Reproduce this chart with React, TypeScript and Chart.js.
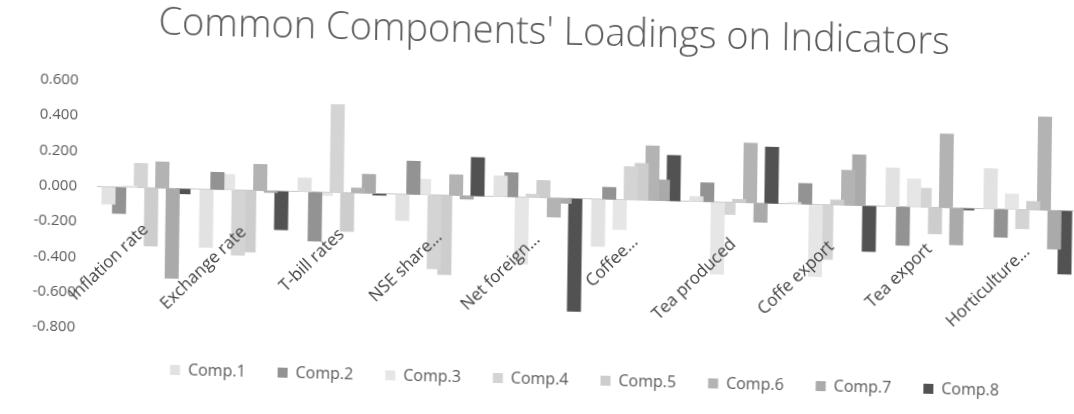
import React, { useEffect, useRef } from "react";
import { Chart, registerables } from "chart.js";

Chart.register(...registerables);

const categories = [
  "Inflation rate",
  "Exchange rate",
  "T-bill rates",
  "NSE share...",
  "Net foreign...",
  "Coffee...",
  "Tea produced",
  "Coffe export",
  "Tea export",
  "Horticulture...",
];

const comp1 = [-0.1, -0.33, 0.08, -0.15, 0.12, -0.27, 0.03, 0.01, 0.22, 0.23];
const comp2 = [-0.15, 0.1, -0.28, 0.19, 0.14, 0.07, 0.11, 0.12, -0.22, -0.16];
const comp3 = [0.01, 0.09, -0.02, 0.09, -0.38, -0.17, -0.41, -0.41, 0.16, 0.09];
const comp4 = [0.14, -0.37, 0.5, -0.42, 0.02, 0.19, -0.07, -0.31, 0.11, -0.11];
const comp5 = [-0.33, -0.35, -0.22, -0.45, 0.1, 0.21, 0.02, 0.03, -0.15, 0.05];
const comp6 = [0.15, 0.15, 0.03, 0.12, -0.11, 0.31, 0.34, 0.2, 0.42, 0.53];
const comp7 = [-0.51, -0.01, 0.11, -0.02, -0.03, 0.12, -0.11, 0.29, -0.21, -0.22];
const comp8 = [-0.03, -0.22, -0.01, 0.22, -0.64, 0.26, 0.32, -0.26, -0.01, -0.36];

const seriesNames = ["Comp.1", "Comp.2", "Comp.3", "Comp.4", "Comp.5", "Comp.6", "Comp.7", "Comp.8"];
const seriesValues = [comp1, comp2, comp3, comp4, comp5, comp6, comp7, comp8];
const seriesColors = ["#e2e2e2", "#939393", "#e6e6e6", "#d4d4d4", "#cdcdcd", "#b3b3b3", "#aaaaaa", "#525252"];

const yMin = -0.8;
const yMax = 0.6;
const yStep = 0.2;

const FONT = "'Open Sans', 'DejaVu Sans', sans-serif";

export default function App() {
  const ref = useRef<HTMLCanvasElement | null>(null);

  useEffect(() => {
    if (!ref.current) return;
    const chart = new Chart(ref.current, {
      type: "bar",
      data: {
        labels: categories,
        datasets: seriesNames.map((name, i) => ({
          label: name,
          data: seriesValues[i],
          backgroundColor: seriesColors[i],
          borderWidth: 0,
          categoryPercentage: 0.874,
          barPercentage: 1.31,
        })),
      },
      options: {
        responsive: false,
        animation: false,
        devicePixelRatio: 1,
        layout: { padding: { left: 27, right: 0, top: 0, bottom: 17 } },
        plugins: {
          title: {
            display: true,
            text: "Common Components' Loadings on Indicators",
            color: "#595959",
            font: { family: FONT, size: 38, weight: "300" as any },
            padding: { top: 10, bottom: 36 },
          },
          legend: {
            position: "bottom",
            fullSize: false,
            labels: {
              boxWidth: 10,
              boxHeight: 10,
              padding: 32,
              color: "#595959",
              font: { family: FONT, size: 16 },
            },
          },
          tooltip: { enabled: false },
        },
        scales: {
          x: {
            type: "category",
            position: { y: 0 } as any,
            offset: true,
            grid: { display: false, drawTicks: false },
            border: { display: true, color: "#c8c8c8", width: 1 },
            ticks: {
              z: 1,
              autoSkip: false,
              minRotation: 45,
              maxRotation: 45,
              padding: 32,
              color: "#404040",
              font: { family: FONT, size: 17 },
            },
          },
          y: {
            min: yMin,
            max: yMax,
            grid: { display: false, drawTicks: false },
            border: { display: false },
            afterFit: (s: any) => {
              s.width = 70;
            },
            ticks: {
              stepSize: yStep,
              padding: 20,
              color: "#595959",
              font: { family: FONT, size: 15 },
              callback: (v: any) => {
                const n = Math.abs(Number(v)) < 1e-9 ? 0 : Number(v);
                return n.toFixed(3);
              },
            },
          },
        },
      },
    });
    return () => chart.destroy();
  }, []);

  return (
    <div
      style={{
        position: "absolute",
        left: 0,
        top: 0,
        width: 1074,
        height: 414,
        overflow: "hidden",
        background: "#ffffff",
      }}
    >
      <div
        style={{
          position: "absolute",
          left: 0,
          top: 0,
          width: 1077,
          height: 414,
          transform: "matrix(1, 0.025, -0.0135, 1, 0, 0)",
          transformOrigin: "537px 207px",
        }}
      >
        <canvas ref={ref} width={1077} height={414} style={{ display: "block" }} />
      </div>
    </div>
  );
}
